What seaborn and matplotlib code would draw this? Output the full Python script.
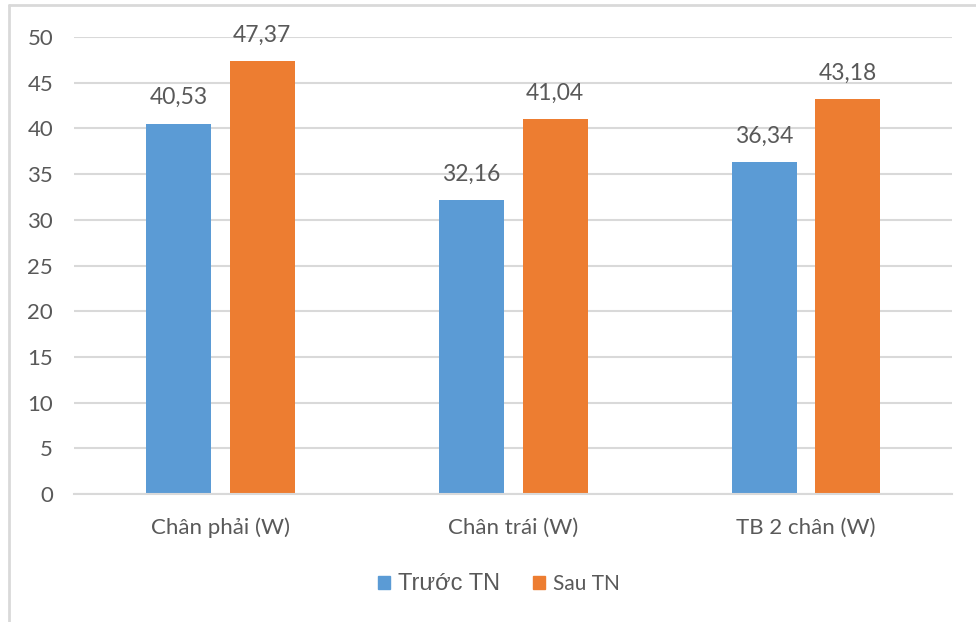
import numpy as np
import pandas as pd
import matplotlib.pyplot as plt
from matplotlib.lines import Line2D
import seaborn as sns

categories = ['Chân phải (W)', 'Chân trái (W)', 'TB 2 chân (W)']
series = ['Trước TN', 'Sau TN']
truoc = [40.53, 32.16, 36.34]
sau = [47.37, 41.04, 43.18]
yticks = [0, 5, 10, 15, 20, 25, 30, 35, 40, 45, 50]

df = pd.DataFrame({
    'cat': categories * 2,
    'series': [series[0]] * 3 + [series[1]] * 3,
    'val': truoc + sau,
})

sns.set_style('white')
plt.rcParams['font.family'] = ['Lato', 'DejaVu Sans']
txt = '#595959'
grid = '#D9D9D9'

fig = plt.figure(figsize=(9.76, 6.22), dpi=100)
ax = fig.add_axes([0.0758, 0.2058, 0.9, 0.7347])

sns.barplot(data=df, x='cat', y='val', hue='series', order=categories, hue_order=series,
            palette=['#5B9BD5', '#ED7D31'], width=0.573, gap=0.226, linewidth=0,
            saturation=1, ax=ax, legend=False)

ax.set_ylim(0, 50)
ax.set_yticks(yticks)
ax.set_xlim(-0.5, 2.5)
ax.yaxis.grid(True, color=grid, linewidth=1.5)
ax.set_axisbelow(True)
for s in ['top', 'right', 'left']:
    ax.spines[s].set_visible(False)
ax.spines['bottom'].set_color(grid)
ax.spines['bottom'].set_linewidth(1.5)
ax.tick_params(axis='both', length=0, labelsize=16, colors=txt)
ax.tick_params(axis='x', pad=17)
ax.tick_params(axis='y', pad=15)
ax.set_xlabel('')
ax.set_ylabel('')

for cont in ax.containers:
    for bar in cont:
        h = bar.get_height()
        ax.annotate(f'{h:.2f}'.replace('.', ','), (bar.get_x() + bar.get_width() / 2, h),
                    xytext=(0, 11), textcoords='offset points', ha='center', va='bottom',
                    fontsize=16.5, color=txt)

handles = [plt.Rectangle((0, 0), 1, 1, color='#5B9BD5'),
           plt.Rectangle((0, 0), 1, 1, color='#ED7D31')]
leg = fig.legend(handles, series, loc='center', bbox_to_anchor=(0.511, 0.061), ncol=2,
                 frameon=False, handlelength=0.6, handleheight=0.6, handletextpad=0.35,
                 columnspacing=1.6, fontsize=15)
leg.get_texts()[0].set_family(['Liberation Sans', 'DejaVu Sans'])
leg.get_texts()[0].set_fontsize(17)
for t in leg.get_texts():
    t.set_color(txt)

# chart border
fig.add_artist(Line2D([9 / 976, 1], [1 - 5 / 622, 1 - 5 / 622], color=grid, linewidth=2))
fig.add_artist(Line2D([9 / 976, 9 / 976], [0, 1 - 5 / 622], color=grid, linewidth=2))

fig.savefig('out.png', dpi=100)
